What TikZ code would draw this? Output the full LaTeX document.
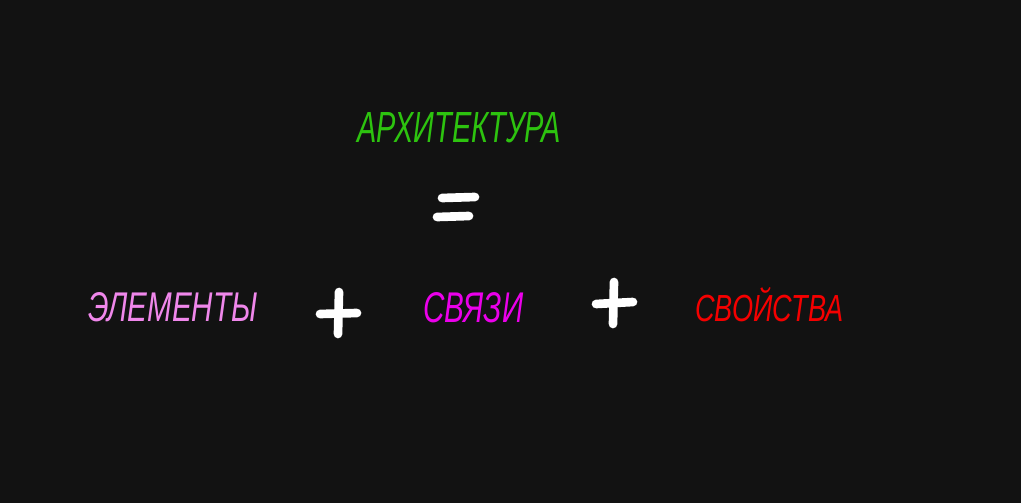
\documentclass[tikz,border=0pt]{standalone}
\usepackage{fontspec}
\setmainfont{Liberation Sans}
\usepackage{graphicx}
\definecolor{bg}{HTML}{121212}
\definecolor{archgreen}{RGB}{45,195,15}
\definecolor{elpink}{RGB}{240,135,235}
\definecolor{linkmag}{RGB}{235,0,235}
\definecolor{propred}{RGB}{245,0,0}
\tikzset{
  word/.style={anchor=south west, inner sep=0pt, font=\itshape},
  stroke/.style={draw=white, line width=6.5pt, line cap=round},
}
\begin{document}
\begin{tikzpicture}[x=0.75pt,y=-0.75pt]
\fill[bg] (0,0) rectangle (1021,503);
\useasboundingbox (0,0) rectangle (1021,503);
% words
\node[word, text=archgreen] (arch) at (357,143) {\resizebox{153pt}{22.5pt}{АРХИТЕКТУРА}};
\node[word, text=elpink] (elem) at (88,322) {\resizebox{127pt}{21.75pt}{ЭЛЕМЕНТЫ}};
\node[word, text=linkmag] (links) at (423,323) {\resizebox{75pt}{22.5pt}{СВЯЗИ}};
\node[word, text=propred] (props) at (695,322) {\resizebox{111pt}{25.5pt}{СВОЙСТВА}};
% equals sign
\draw[stroke] (442,198) -- (475,197);
\draw[stroke] (437,217) -- (469,216);
% plus signs
\draw[stroke] (320,314) -- (357,313);
\draw[stroke] (339,292) -- (338,334);
\draw[stroke] (596,304) -- (633,302);
\draw[stroke] (614,282) -- (613,324);
\end{tikzpicture}
\end{document}
